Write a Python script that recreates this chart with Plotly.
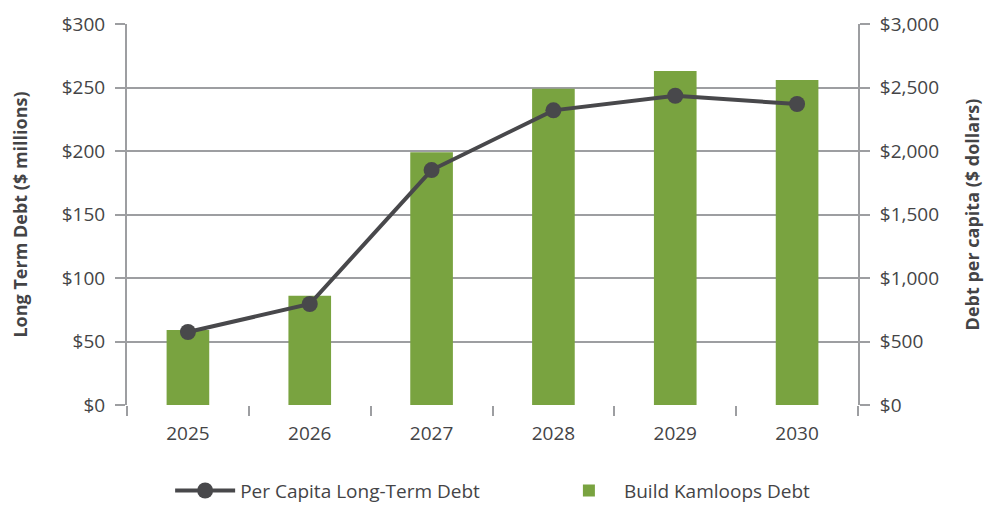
import plotly.graph_objects as go

years = ['2025', '2026', '2027', '2028', '2029', '2030']
# Build Kamloops debt, $ millions (left axis)
debt_millions = [59, 86, 199, 249, 263, 256]
# per capita long-term debt, $ (right axis)
per_capita = [575, 795, 1850, 2320, 2435, 2370]

left_ticks = [0, 50, 100, 150, 200, 250, 300]
right_ticks = [0, 500, 1000, 1500, 2000, 2500, 3000]

font_name = 'Open Sans'
grey = '#9d9ea1'
text_col = '#444446'

fig = go.Figure()

fig.add_trace(go.Scatter(x=years, y=per_capita, yaxis='y2',
                         mode='lines+markers',
                         name='Per Capita Long-Term Debt',
                         line=dict(color='#48484b', width=4),
                         marker=dict(color='#48484b', size=16),
                         legend='legend'))

fig.add_trace(go.Bar(x=years, y=debt_millions,
                     name='Build Kamloops Debt',
                     marker=dict(color='#79a340', line=dict(width=0)),
                     width=0.35, legend='legend2'))

# page body has an 8px margin, so the figure is a bit smaller than the window
fig.update_layout(
    width=985, height=502,
    margin=dict(l=119, r=135, t=16, b=105, autoexpand=False),
    paper_bgcolor='white', plot_bgcolor='white',
    font=dict(family=font_name, size=19, color=text_col),
    showlegend=True,
    legend=dict(x=0.059, xanchor='left', y=-0.175, yanchor='top',
                font=dict(size=19), itemwidth=60, bgcolor='rgba(0,0,0,0)'),
    legend2=dict(x=0.584, xanchor='left', y=-0.175, yanchor='top',
                 font=dict(size=19), itemwidth=60, bgcolor='rgba(0,0,0,0)'),
    xaxis=dict(type='category', showgrid=False, showline=False,
               ticks='outside', tickson='boundaries', ticklen=10,
               tickwidth=2, tickcolor=grey, zeroline=False,
               ticklabelstandoff=15),
    yaxis=dict(range=[0, 300], tickvals=left_ticks,
               ticktext=['$' + str(v) for v in left_ticks],
               showgrid=True, gridcolor=grey, gridwidth=2,
               showline=True, linecolor=grey, linewidth=2,
               ticks='outside', ticklen=10, tickwidth=2, tickcolor=grey,
               zeroline=False, ticklabelstandoff=6,
               title=dict(text='<b>Long Term Debt ($ millions)</b>',
                          font=dict(size=18), standoff=32)),
    yaxis2=dict(range=[0, 3000], tickvals=right_ticks,
                ticktext=['${:,}'.format(v) for v in right_ticks],
                overlaying='y', side='right', showgrid=False,
                showline=True, linecolor=grey, linewidth=2,
                ticks='outside', ticklen=10, tickwidth=2, tickcolor=grey,
                zeroline=False, ticklabelstandoff=6,
                title=dict(text='<b>Debt per capita ($ dollars)</b>',
                           font=dict(size=18), standoff=28)),
)

fig.write_html("out.html")
